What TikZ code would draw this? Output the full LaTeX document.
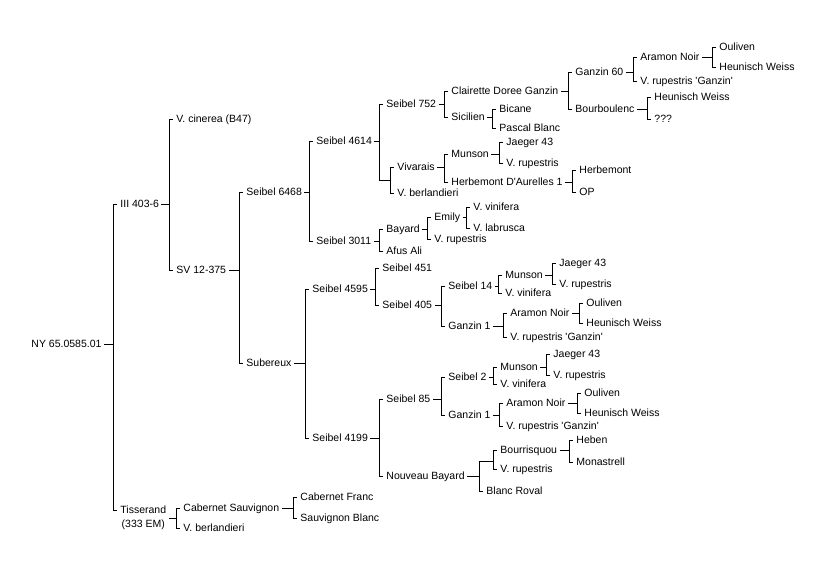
\documentclass[tikz,border=0pt]{standalone}
\usepackage{fontspec}
\setmainfont{Liberation Sans}

\tikzset{
  vine/.style={anchor=west, inner xsep=2pt, inner ysep=1pt, font=\fontsize{10.5}{14}\selectfont},
  cultivar/.style={vine, text height=7.5pt, text depth=0pt},
  junction/.style={inner sep=0pt, minimum size=0pt},
  fork/.style={to path={([xshift=-1pt]\tikztostart.west) -- ++(-4pt,0) |- (\tikztotarget.east)}},
}

\begin{document}
\begin{tikzpicture}[x=1pt, y=-1pt, line width=0.9pt]
\useasboundingbox[fill=white] (0,0) rectangle (833,579);

% Root
\node[cultivar] (ny) at (29,344) {NY 65.0585.01};
\node[cultivar] (iii) at (118,204) {III 403-6};
\node[vine, align=center] (tis) at (118,518) {Tisserand\\(333 EM)};

% III 403-6 line
\node[cultivar] (cinerea) at (174,119) {V. cinerea (B47)};
\node[cultivar] (sv) at (174,270) {SV 12-375};
\node[cultivar] (s6468) at (244,192) {Seibel 6468};
\node[cultivar] (subereux) at (244,363) {Subereux};

% Seibel 6468
\node[cultivar] (s4614) at (314,141) {Seibel 4614};
\node[cultivar] (s3011) at (314,241) {Seibel 3011};
\node[cultivar] (s752) at (384,104) {Seibel 752};
\node[junction] (j1) at (390,180) {};
\node[cultivar] (vivarais) at (395,167) {Vivarais};
\node[cultivar] (berlA) at (395,193) {V. berlandieri};
\node[cultivar] (clairette) at (449,91) {Clairette Doree Ganzin};
\node[cultivar] (sicilien) at (449,117) {Sicilien};
\node[cultivar] (ganzin60) at (573,72) {Ganzin 60};
\node[cultivar] (bourboulenc) at (573,109) {Bourboulenc};
\node[cultivar] (aramonA) at (638,57) {Aramon Noir};
\node[cultivar] (ganzinA) at (638,81) {V. rupestris \textquotesingle Ganzin\textquotesingle};
\node[cultivar] (oulivenA) at (717,47) {Ouliven};
\node[cultivar] (heunischA) at (717,67) {Heunisch Weiss};
\node[cultivar] (heunischB) at (652,97) {Heunisch Weiss};
\node[cultivar] (unknown) at (652,119) {???};
\node[cultivar] (bicane) at (497,109) {Bicane};
\node[cultivar] (pascal) at (497,128) {Pascal Blanc};
\node[cultivar] (munsonA) at (449,154) {Munson};
\node[cultivar] (herbda) at (449,182) {Herbemont D\textquotesingle Aurelles 1};
\node[cultivar] (jaegerA) at (504,142) {Jaeger 43};
\node[cultivar] (rupA) at (504,163) {V. rupestris};
\node[cultivar] (herbemont) at (577,170) {Herbemont};
\node[cultivar] (op) at (577,192) {OP};
\node[cultivar] (bayard) at (384,229) {Bayard};
\node[cultivar] (afus) at (384,251) {Afus Ali};
\node[cultivar] (emily) at (432,217) {Emily};
\node[cultivar] (rupB) at (432,239) {V. rupestris};
\node[cultivar] (vinA) at (471,207) {V. vinifera};
\node[cultivar] (labrusca) at (471,228) {V. labrusca};

% Subereux
\node[cultivar] (s4595) at (310,289) {Seibel 4595};
\node[cultivar] (s4199) at (310,438) {Seibel 4199};
\node[cultivar] (s451) at (380,268) {Seibel 451};
\node[cultivar] (s405) at (380,305) {Seibel 405};
\node[cultivar] (s14) at (446,286) {Seibel 14};
\node[cultivar] (ganzin1A) at (446,326) {Ganzin 1};
\node[cultivar] (munsonB) at (503,275) {Munson};
\node[cultivar] (vinB) at (503,293) {V. vinifera};
\node[cultivar] (jaegerB) at (557,263) {Jaeger 43};
\node[cultivar] (rupC) at (557,284) {V. rupestris};
\node[cultivar] (aramonB) at (508,313) {Aramon Noir};
\node[cultivar] (ganzinB) at (508,337) {V. rupestris \textquotesingle Ganzin\textquotesingle};
\node[cultivar] (oulivenB) at (584,303) {Ouliven};
\node[cultivar] (heunischC) at (584,323) {Heunisch Weiss};
\node[cultivar] (s85) at (384,399) {Seibel 85};
\node[cultivar] (nouveau) at (384,476) {Nouveau Bayard};
\node[cultivar] (s2) at (446,377) {Seibel 2};
\node[cultivar] (ganzin1B) at (446,415) {Ganzin 1};
\node[cultivar] (munsonC) at (498,367) {Munson};
\node[cultivar] (vinC) at (498,384) {V. vinifera};
\node[cultivar] (jaegerC) at (551,354) {Jaeger 43};
\node[cultivar] (rupD) at (551,375) {V. rupestris};
\node[cultivar] (aramonC) at (504,403) {Aramon Noir};
\node[cultivar] (ganzinC) at (504,426) {V. rupestris \textquotesingle Ganzin\textquotesingle};
\node[cultivar] (oulivenC) at (582,393) {Ouliven};
\node[cultivar] (heunischD) at (582,413) {Heunisch Weiss};
\node[junction] (j2) at (493,461) {};
\node[cultivar] (blanc) at (484,491) {Blanc Roval};
\node[cultivar] (bourrisquou) at (498,450) {Bourrisquou};
\node[cultivar] (rupE) at (498,469) {V. rupestris};
\node[cultivar] (heben) at (574,440) {Heben};
\node[cultivar] (monastrell) at (574,462) {Monastrell};

% Tisserand
\node[cultivar] (cabsauv) at (181,508) {Cabernet Sauvignon};
\node[cultivar] (berlB) at (181,528) {V. berlandieri};
\node[cultivar] (cabfranc) at (298,497) {Cabernet Franc};
\node[cultivar] (sauvblanc) at (298,518) {Sauvignon Blanc};

% Brackets
\draw (iii) to[fork] (ny);
\draw ([xshift=-1pt,yshift=8pt]tis.west) -- ++(-4pt,0) |- (ny.east);
\draw (cinerea) to[fork] (iii) (sv) to[fork] (iii);
\draw (s6468) to[fork] (sv) (subereux) to[fork] (sv);
\draw (s4614) to[fork] (s6468) (s3011) to[fork] (s6468);
\draw (s752) to[fork] (s4614);
\draw (j1) -- ++(-11pt,0) |- (s4614.east);
\draw (vivarais) to[fork] (j1) (berlA) to[fork] (j1);
\draw (clairette) to[fork] (s752) (sicilien) to[fork] (s752);
\draw (ganzin60) to[fork] (clairette) (bourboulenc) to[fork] (clairette);
\draw (aramonA) to[fork] (ganzin60) (ganzinA) to[fork] (ganzin60);
\draw (oulivenA) to[fork] (aramonA) (heunischA) to[fork] (aramonA);
\draw (heunischB) to[fork] (bourboulenc) (unknown) to[fork] (bourboulenc);
\draw (bicane) to[fork] (sicilien) (pascal) to[fork] (sicilien);
\draw (munsonA) to[fork] (vivarais) (herbda) to[fork] (vivarais);
\draw (jaegerA) to[fork] (munsonA) (rupA) to[fork] (munsonA);
\draw (herbemont) to[fork] (herbda) (op) to[fork] (herbda);
\draw (bayard) to[fork] (s3011) (afus) to[fork] (s3011);
\draw (emily) to[fork] (bayard) (rupB) to[fork] (bayard);
\draw (vinA) to[fork] (emily) (labrusca) to[fork] (emily);
\draw (s4595) to[fork] (subereux) (s4199) to[fork] (subereux);
\draw (s451) to[fork] (s4595) (s405) to[fork] (s4595);
\draw (s14) to[fork] (s405) (ganzin1A) to[fork] (s405);
\draw (munsonB) to[fork] (s14) (vinB) to[fork] (s14);
\draw (jaegerB) to[fork] (munsonB) (rupC) to[fork] (munsonB);
\draw (aramonB) to[fork] (ganzin1A) (ganzinB) to[fork] (ganzin1A);
\draw (oulivenB) to[fork] (aramonB) (heunischC) to[fork] (aramonB);
\draw (s85) to[fork] (s4199) (nouveau) to[fork] (s4199);
\draw (s2) to[fork] (s85) (ganzin1B) to[fork] (s85);
\draw (munsonC) to[fork] (s2) (vinC) to[fork] (s2);
\draw (jaegerC) to[fork] (munsonC) (rupD) to[fork] (munsonC);
\draw (aramonC) to[fork] (ganzin1B) (ganzinC) to[fork] (ganzin1B);
\draw (oulivenC) to[fork] (aramonC) (heunischD) to[fork] (aramonC);
\draw (j2) -- ++(-14pt,0) |- (nouveau.east);
\draw (blanc) to[fork] (nouveau);
\draw (bourrisquou) to[fork] (j2) (rupE) to[fork] (j2);
\draw (heben) to[fork] (bourrisquou) (monastrell) to[fork] (bourrisquou);
\draw (cabsauv) to[fork] (tis) (berlB) to[fork] (tis);
\draw (cabfranc) to[fork] (cabsauv) (sauvblanc) to[fork] (cabsauv);
\end{tikzpicture}
\end{document}
